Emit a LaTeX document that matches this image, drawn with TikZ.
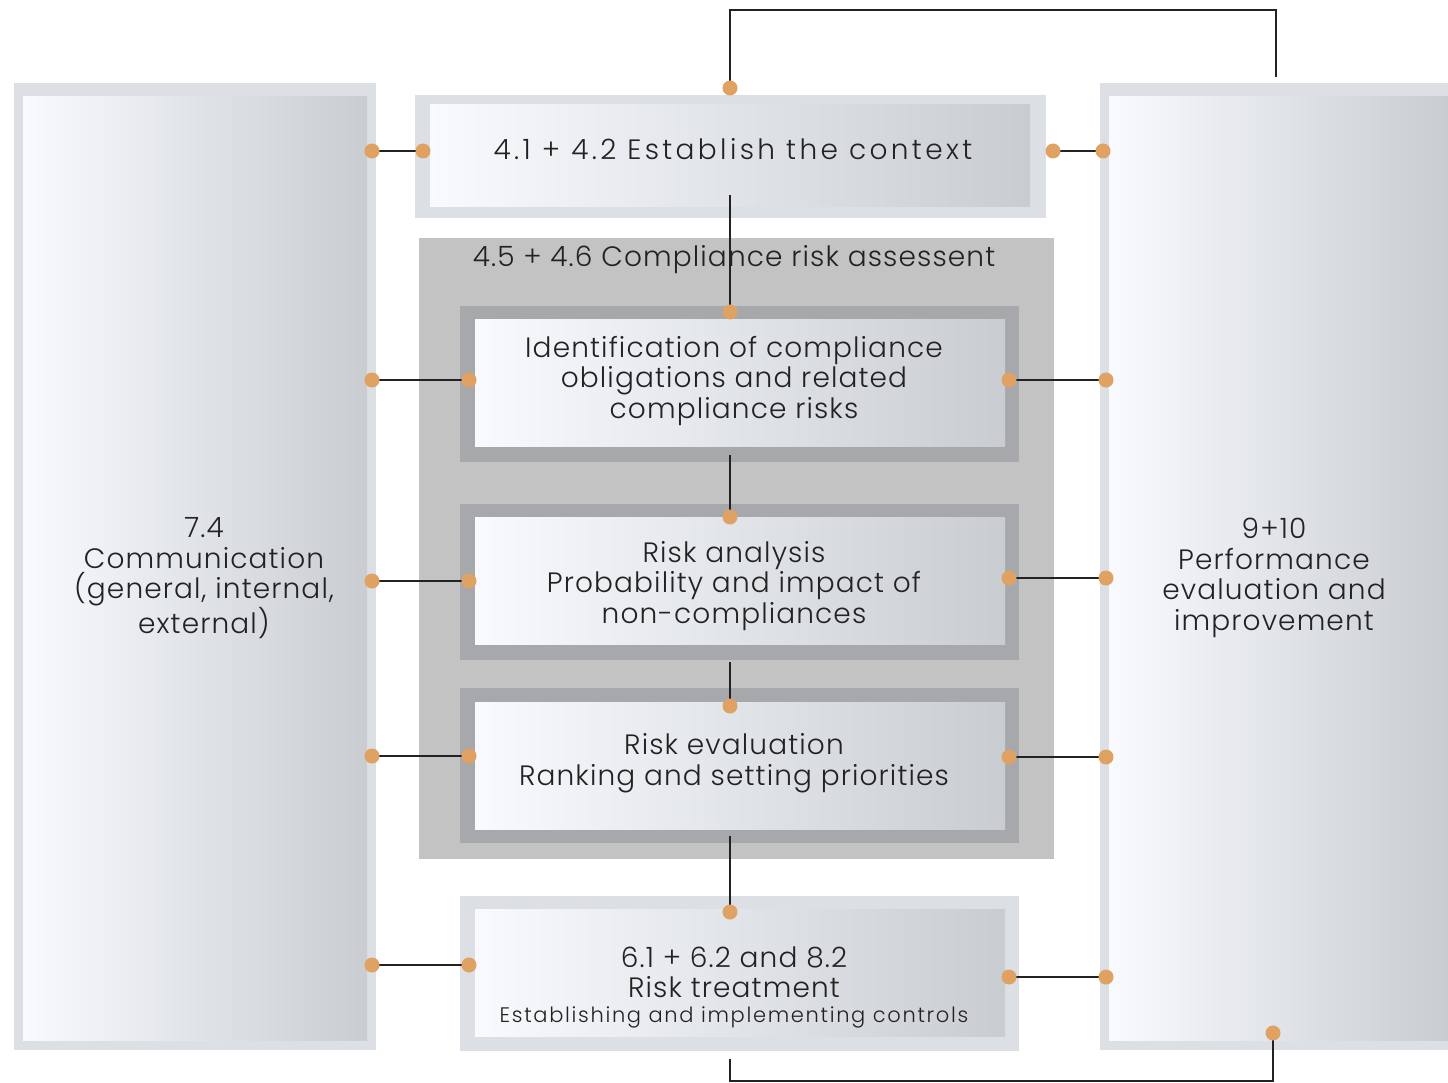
\documentclass[tikz,border=0pt]{standalone}
\usepackage{fontspec}
\IfFontExistsTF{Poppins Light}
  {\setmainfont{Poppins Light}[LetterSpace=4]}
  {\setmainfont{Poppins}[LetterSpace=4]}

\definecolor{frameLight}{HTML}{DCDFE3}
\definecolor{frameDark}{HTML}{A7A8AC}
\definecolor{assessGray}{HTML}{C3C3C3}
\definecolor{shadeL}{HTML}{F8FAFE}
\definecolor{shadeR}{HTML}{C9CDD1}
\definecolor{dotOrange}{HTML}{E0A262}
\definecolor{inkBlack}{HTML}{222222}

\begin{document}
\begin{tikzpicture}[x=1pt,y=-1pt]
	\tikzstyle{box}=[rectangle,inner sep=0pt,left color=shadeL,right color=shadeR]
	\tikzstyle{caption}=[align=center,inner sep=0pt,text=inkBlack,font=\fontsize{28}{30.5}\selectfont]
	\tikzstyle{dot}=[circle,fill=dotOrange,inner sep=0pt,minimum size=15pt]
	\tikzstyle{conn}=[draw=inkBlack,line width=2.5pt]

	\useasboundingbox (0,0) rectangle (1448,1083);

	% frames
	\fill [frameLight] (14,83) rectangle (376,1050);
	\fill [frameLight] (1100,83) rectangle (1448,1050);
	\fill [frameLight] (415,95) rectangle (1046,218);
	\fill [assessGray] (419,238) rectangle (1054,859);
	\fill [frameDark] (460,306) rectangle (1019,462);
	\fill [frameDark] (460,504) rectangle (1019,660);
	\fill [frameDark] (460,688) rectangle (1019,843);
	\fill [frameLight] (460,896) rectangle (1019,1051);

	% boxes
	\node [box,minimum width=344pt,minimum height=943pt] (comm) at (195,568.5) {};
	\node [box,minimum width=339pt,minimum height=943pt] (perf) at (1278.5,568.5) {};
	\node [box,minimum width=600pt,minimum height=102pt] (context) at (730,156) {};
	\node [box,minimum width=530pt,minimum height=127pt] (ident) at (740,382.5) {};
	\node [box,minimum width=530pt,minimum height=127pt] (analysis) at (740,580.5) {};
	\node [box,minimum width=530pt,minimum height=127pt] (evaluation) at (740,765.5) {};
	\node [box,minimum width=530pt,minimum height=127pt] (treatment) at (740,972.5) {};

	% texts
	\node [caption] (comm_text) at (204,578) {7.4\\Communication\\(general, internal,\\external)};
	\node [caption] (perf_text) at (1274,578) {9+10\\Performance\\evaluation and\\improvement};
	\node [caption] (context_text) at (733,149) {\addfontfeature{LetterSpace=12}4.1 + 4.2 Establish the context};
	\node [caption] (assess_text) at (734,260) {4.5 + 4.6 Compliance risk assessent};
	\node [caption] (ident_text) at (734,381) {Identification of compliance\\obligations and related\\compliance risks};
	\node [caption] (analysis_text) at (734,586) {Risk analysis\\Probability and impact of\\non-compliances};
	\node [caption] (evaluation_text) at (734,763) {Risk evaluation\\Ranking and setting priorities};
	\node [caption] (treatment_text) at (734,987) {6.1 + 6.2 and 8.2\\Risk treatment\\[-6pt]{\fontsize{21}{26}\selectfont\addfontfeature{LetterSpace=8}Establishing and implementing controls}};

	% connector ends
	\coordinate (ctx_top) at (730,88);
	\coordinate (loop_end) at (1276,77);
	\coordinate (ctx_l) at (423,151);
	\coordinate (comm_ctx) at (372,151);
	\coordinate (ctx_r) at (1053,151);
	\coordinate (perf_ctx) at (1103,151);
	\coordinate (ctx_stem) at (730,195);
	\coordinate (ident_top) at (730,312);
	\coordinate (ident_stem) at (730,455);
	\coordinate (analysis_top) at (730,517);
	\coordinate (analysis_stem) at (730,662);
	\coordinate (evaluation_top) at (730,706);
	\coordinate (evaluation_stem) at (730,836);
	\coordinate (treatment_top) at (730,912);
	\coordinate (treatment_stem) at (730,1059);
	\coordinate (perf_bottom) at (1273,1033);
	\coordinate (comm_ident) at (372,380);
	\coordinate (ident_l) at (469,380);
	\coordinate (ident_r) at (1009,380);
	\coordinate (perf_ident) at (1106,380);
	\coordinate (comm_analysis) at (372,581);
	\coordinate (analysis_l) at (469,581);
	\coordinate (analysis_r) at (1009,578);
	\coordinate (perf_analysis) at (1106,578);
	\coordinate (comm_evaluation) at (372,756);
	\coordinate (evaluation_l) at (469,756);
	\coordinate (evaluation_r) at (1009,757);
	\coordinate (perf_evaluation) at (1106,757);
	\coordinate (comm_treatment) at (372,965);
	\coordinate (treatment_l) at (469,965);
	\coordinate (treatment_r) at (1009,977);
	\coordinate (perf_treatment) at (1106,977);

	\foreach \source/\dest in
	{comm_ctx/ctx_l,ctx_r/perf_ctx,ctx_stem/ident_top,ident_stem/analysis_top,analysis_stem/evaluation_top,evaluation_stem/treatment_top,comm_ident/ident_l,ident_r/perf_ident,comm_analysis/analysis_l,analysis_r/perf_analysis,comm_evaluation/evaluation_l,evaluation_r/perf_evaluation,comm_treatment/treatment_l,treatment_r/perf_treatment}
	  \draw [conn] (\source) -- (\dest);

	\draw [conn] (ctx_top) -- ++(0,-78) -| (loop_end);
	\draw [conn] (treatment_stem) -- ++(0,22) -| (perf_bottom);

	\foreach \spot in
	{ctx_top,ctx_l,comm_ctx,ctx_r,perf_ctx,ident_top,analysis_top,evaluation_top,treatment_top,perf_bottom,comm_ident,ident_l,ident_r,perf_ident,comm_analysis,analysis_l,analysis_r,perf_analysis,comm_evaluation,evaluation_l,evaluation_r,perf_evaluation,comm_treatment,treatment_l,treatment_r,perf_treatment}
	  \node [dot] at (\spot) {};
\end{tikzpicture}
\end{document}
